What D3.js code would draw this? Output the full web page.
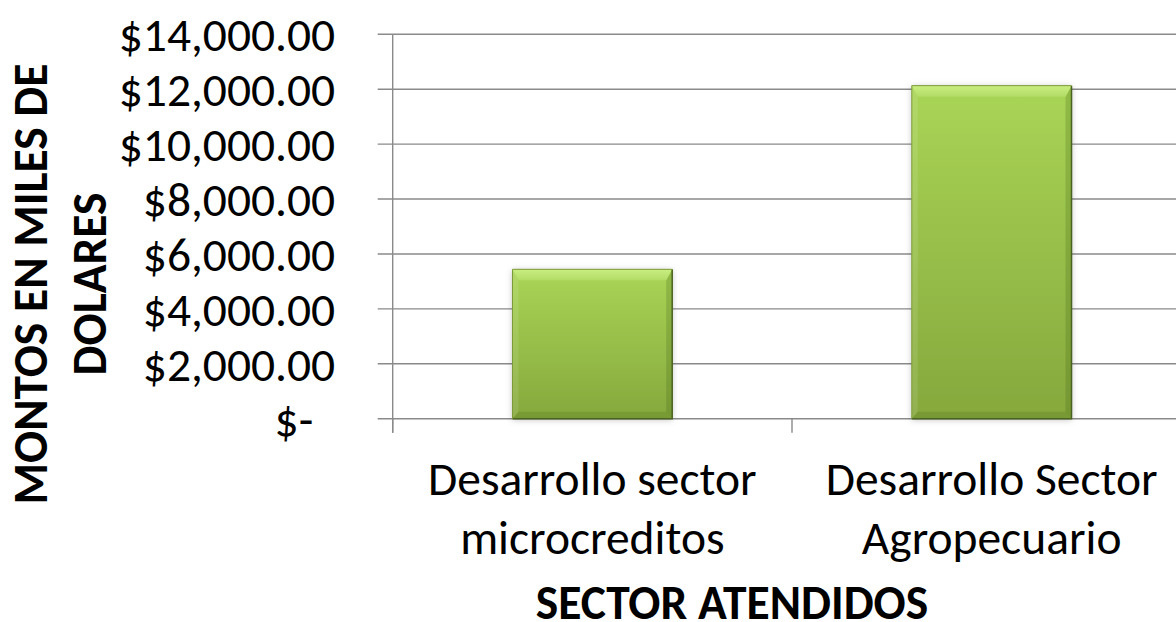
<!DOCTYPE html>
<html>
<head>
<meta charset="utf-8">
<script src="https://cdn.jsdelivr.net/npm/d3@7"></script>
<style>
  html, body { margin: 0; padding: 0; background: #fff; }
  svg { display: block; }
  text { font-family: Carlito, Calibri, Lato, "Open Sans", sans-serif; fill: #000; }
</style>
</head>
<body>
<svg id="chart" width="1176" height="622"></svg>
<script>
// ---- data ----
const categories = [["Desarrollo sector", "microcreditos"], ["Desarrollo Sector", "Agropecuario"]];
const categoryKeys = ["Desarrollo sector microcreditos", "Desarrollo Sector Agropecuario"];
const values = [5440, 12130];
const yTicks = [0, 2000, 4000, 6000, 8000, 10000, 12000, 14000];
const yTitleLines = ["MONTOS EN MILES DE", "DOLARES"];
const xTitle = "SECTOR ATENDIDOS";

// ---- layout ----
const W = 1176, H = 622, FS = 47.5;
const plot = { left: 392.7, right: 1191.3, top: 34.3, bottom: 418.7 };
const svg = d3.select("#chart");

const x = d3.scaleBand().domain(categoryKeys).range([plot.left, plot.right])
  .paddingInner(0.6).paddingOuter(0.3);
const y = d3.scaleLinear().domain([0, 14000]).range([plot.bottom, plot.top]);

const fmt = v => v === 0 ? "$-" : "$" + d3.format(",.2f")(v);

const defs = svg.append("defs");
const g1 = defs.append("linearGradient").attr("id", "barGrad").attr("x1", 0).attr("y1", 0).attr("x2", 0).attr("y2", 1);
g1.append("stop").attr("offset", "0%").attr("stop-color", "#a9d556");
g1.append("stop").attr("offset", "100%").attr("stop-color", "#86a83d");
const g2 = defs.append("linearGradient").attr("id", "topBev").attr("x1", 0).attr("y1", 0).attr("x2", 0).attr("y2", 1);
g2.append("stop").attr("offset", "0%").attr("stop-color", "#c9ee82");
g2.append("stop").attr("offset", "100%").attr("stop-color", "#b2dc66");
const f = defs.append("filter").attr("id", "shadow").attr("x", "-20%").attr("y", "-20%").attr("width", "140%").attr("height", "140%");
f.append("feDropShadow").attr("dx", 0).attr("dy", 1).attr("stdDeviation", 3).attr("flood-color", "#000").attr("flood-opacity", 0.25);

// gridlines with outward tick marks
const grid = svg.append("g");
grid.selectAll("line").data(yTicks).join("line")
  .attr("x1", plot.left - 15).attr("x2", W + 20)
  .attr("y1", d => y(d)).attr("y2", d => y(d))
  .attr("stroke", "#8a8a8a").attr("stroke-width", 1.4);

// y-axis labels via d3 axis
const yAxis = d3.axisLeft(y).tickValues(yTicks).tickFormat(fmt).tickSize(0).tickPadding(0);
const yg = svg.append("g").attr("transform", `translate(${plot.left - 57.5},0)`).call(yAxis);
yg.select(".domain").remove();
yg.selectAll("text").attr("font-size", FS).attr("dy", "0.35em").attr("fill", "#000")
  .attr("font-family", "Carlito, Calibri, Lato, sans-serif")
  .attr("dx", d => d === 0 ? -22 : 0);

// vertical axis line
svg.append("line").attr("x1", plot.left).attr("x2", plot.left)
  .attr("y1", plot.top).attr("y2", plot.bottom + 14)
  .attr("stroke", "#8a8a8a").attr("stroke-width", 1.4);

// category tick marks
const bounds = [plot.left, plot.left + x.step()];
svg.append("g").selectAll("line").data(bounds).join("line")
  .attr("x1", d => d).attr("x2", d => d)
  .attr("y1", plot.bottom).attr("y2", plot.bottom + 14)
  .attr("stroke", "#8a8a8a").attr("stroke-width", 1.4);

// bars with bevel
const bars = svg.append("g");
categoryKeys.forEach((c, i) => {
  const x0 = x(c), w = x.bandwidth(), y0 = y(values[i]), h = y(0) - y(values[i]);
  const x1 = x0 + w, y1 = y0 + h, b = 11, bb = 7, bs = 6;
  const gb = bars.append("g");
  gb.append("rect").attr("x", x0).attr("y", y0).attr("width", w).attr("height", h)
    .attr("fill", "url(#barGrad)").attr("filter", "url(#shadow)");
  gb.append("polygon").attr("points", [[x0, y0], [x0 + bs, y0 + b], [x0 + bs, y1 - bb], [x0, y1]].join(" "))
    .attr("fill", "#ffffff").attr("opacity", 0.10);
  gb.append("polygon").attr("points", [[x1, y0], [x1 - bs, y0 + b], [x1 - bs, y1 - bb], [x1, y1]].join(" "))
    .attr("fill", "#3d5a10").attr("opacity", 0.22);
  gb.append("polygon").attr("points", [[x0, y0], [x1, y0], [x1 - bs, y0 + b], [x0 + bs, y0 + b]].join(" "))
    .attr("fill", "url(#topBev)");
  gb.append("polygon").attr("points", [[x0, y1], [x1, y1], [x1 - bs, y1 - bb], [x0 + bs, y1 - bb]].join(" "))
    .attr("fill", "#4f6e1a").attr("opacity", 0.25);
  gb.append("path").attr("d", `M${x1},${y0}L${x1},${y1}L${x0},${y1}`)
    .attr("fill", "none").attr("stroke", "#4a6320").attr("stroke-width", 1.5);
  gb.append("path").attr("d", `M${x0},${y1}L${x0},${y0}L${x1},${y0}`)
    .attr("fill", "none").attr("stroke", "#7d9a3a").attr("stroke-width", 1);
});

// category labels
const catG = svg.append("g");
categoryKeys.forEach((c, i) => {
  const cx = x(c) + x.bandwidth() / 2;
  categories[i].forEach((line, j) => {
    catG.append("text").attr("x", cx).attr("y", 495 + j * 58.5)
      .attr("text-anchor", "middle").attr("font-size", FS).text(line);
  });
});

// x title
svg.append("text").attr("x", 732).attr("y", 619).attr("text-anchor", "middle")
  .attr("font-size", FS).attr("font-weight", "bold").text(xTitle);

// y title
const yt = svg.append("g");
yTitleLines.forEach((line, j) => {
  yt.append("text").attr("transform", `translate(${47 + j * 59},284) rotate(-90)`)
    .attr("text-anchor", "middle").attr("font-size", FS).attr("font-weight", "bold").text(line);
});
</script>
</body>
</html>
